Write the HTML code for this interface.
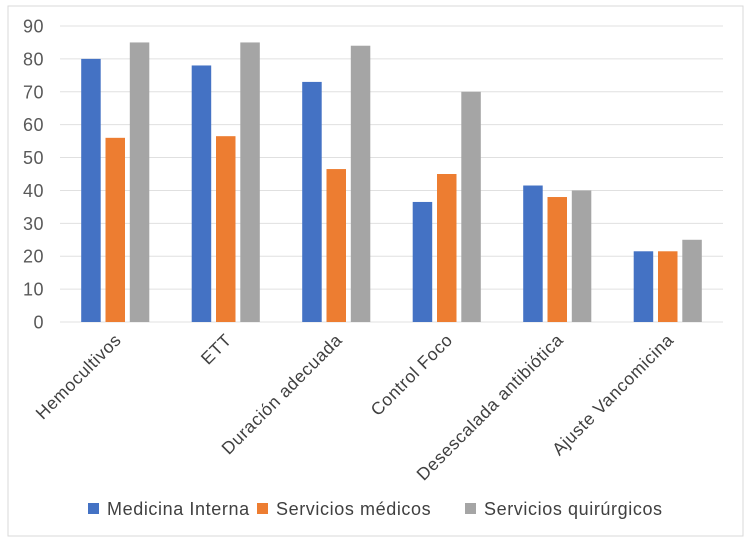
<!DOCTYPE html>
<html><head><meta charset="utf-8"><style>
body{margin:0;background:#fff;}
svg{display:block;font-family:"Liberation Sans",sans-serif;}
</style></head><body>
<svg id="chart" width="750" height="544">
<rect x="8" y="6" width="735" height="530" fill="#fff" stroke="#d9d9d9"/>
<g id="grid"></g><g id="bars"></g><g id="labels"></g>
<g font-size="18" letter-spacing="0.6" fill="#404040">
<rect x="88" y="503" width="11" height="11" fill="#4472c4"/>
<text x="107" y="515">Medicina Interna</text>
<rect x="257" y="503" width="11" height="11" fill="#ed7d31"/>
<text x="276" y="515">Servicios médicos</text>
<rect x="465" y="503" width="11" height="11" fill="#a5a5a5"/>
<text x="484" y="515">Servicios quirúrgicos</text>
</g>
</svg>
<script>
const categories=["Hemocultivos","ETT","Duración adecuada","Control Foco","Desescalada antibiótica","Ajuste Vancomicina"];
const medicinaInterna=[80,78,73,36.5,41.5,21.5];
const serviciosMedicos=[56,56.5,46.5,45,38,21.5];
const serviciosQuirurgicos=[85,85,84,70,40,25];
const yTicks=[0,10,20,30,40,50,60,70,80,90];
const NS="http://www.w3.org/2000/svg";
const x0=60,x1=723,y0=322,y90=26;
const y=v=>y0-(v/90)*(y0-y90);
const band=(x1-x0)/categories.length;
const cx=i=>x0+band*(i+0.5);
function mk(t,a,p){const e=document.createElementNS(NS,t);for(const k in a)e.setAttribute(k,a[k]);p.appendChild(e);return e;}
const grid=document.getElementById('grid'),bars=document.getElementById('bars'),labels=document.getElementById('labels');
yTicks.forEach(t=>{
  const l=mk('line',{x1:x0,x2:x1,y1:y(t),y2:y(t),stroke:'#e0e0e0','stroke-width':1},grid);
  
  
  const tx=mk('text',{x:44,y:y(t)+6.5,'text-anchor':'end','font-size':18,'letter-spacing':0.5,fill:'#595959'},grid);
  tx.textContent=t;
  
  
});
const series=[[medicinaInterna,'#4472c4','medicina-interna'],[serviciosMedicos,'#ed7d31','servicios-medicos'],[serviciosQuirurgicos,'#a5a5a5','servicios-quirurgicos']];
const bw=19.5,gap=4.8;
categories.forEach((c,i)=>{
  series.forEach((s,j)=>{
    const v=s[0][i];
    const bx=cx(i)+(j-1)*(bw+gap)-bw/2;
    const r=mk('rect',{x:bx,y:y(v),width:bw,height:y0-y(v),fill:s[1]},bars);
    
    
  });
  const t=mk('text',{x:0,y:0,'text-anchor':'end','font-size':17.5,'letter-spacing':0.6,fill:'#404040',transform:`translate(${cx(i)+7},${y0+19}) rotate(-45)`},labels);
  t.textContent=c;
  
  
});
</script>
</body></html>
